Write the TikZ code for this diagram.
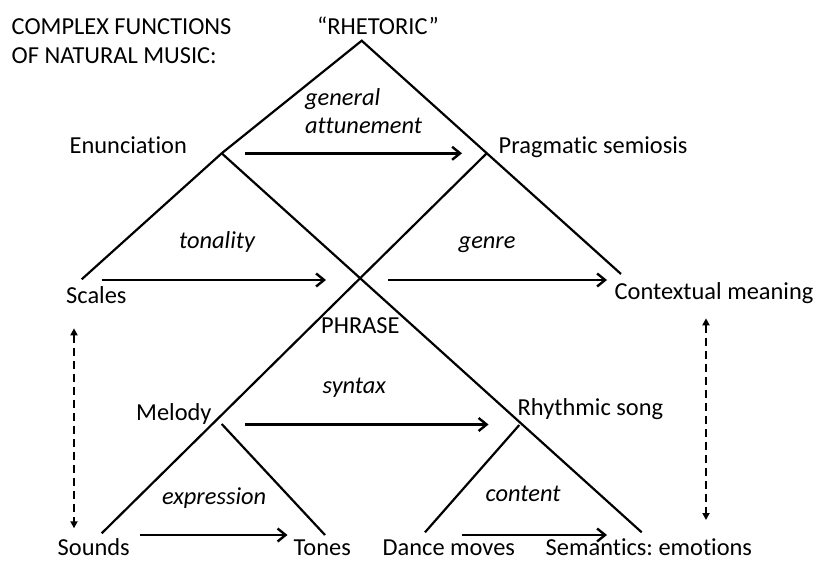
\documentclass[tikz,border=0pt]{standalone}
\usepackage{fontspec}
\setmainfont[Ligatures=NoCommon]{Carlito}
\usetikzlibrary{arrows.meta}
\frenchspacing
\begin{document}
\begin{tikzpicture}[x=1bp,y=-1bp,
  lbl/.style={inner sep=0pt,anchor=base west,font=\fontsize{24.5}{28}\selectfont},
  ilbl/.style={lbl,font=\fontsize{24.5}{28}\selectfont\itshape},
  branch/.style={line width=2.2bp},
  flow/.style={line width=2.6bp,-{Straight Barb[length=8bp,width=13bp,line width=2.4bp]}},
  link/.style={line width=2.4bp,dash pattern=on 8bp off 5bp,
    {Triangle[length=7bp,width=7bp]}-{Triangle[length=7bp,width=7bp]}}]
\useasboundingbox (0,0) rectangle (815,565);

% tree vertices
\coordinate (apex) at (361.7,40.7);
\coordinate (enun) at (221.7,153.3);
\coordinate (prag) at (486.7,153.3);
\coordinate (scalesEnd) at (81.7,279.3);
\coordinate (ctxEnd) at (621,274);
\coordinate (semEnd) at (641.7,532.3);
\coordinate (soundsEnd) at (101.7,533.3);
\coordinate (melJ) at (221.7,424);
\coordinate (tonesEnd) at (325,535);
\coordinate (rhyJ) at (519.3,425);
\coordinate (danceEnd) at (425,532.3);

% branches
\draw[branch] (scalesEnd) -- (enun) -- (apex) -- (ctxEnd);
\draw[branch] (enun) -- (semEnd);
\draw[branch] (prag) -- (soundsEnd);
\draw[branch] (melJ) -- (tonesEnd);
\draw[branch] (rhyJ) -- (danceEnd);

% labels
\node[lbl] (title1) at (11.5,35) {COMPLEX FUNCTIONS};
\node[lbl] (title2) at (11.5,63.3) {OF NATURAL MUSIC:};
\node[lbl] (rhet) at (317,35) {“RHETORIC”};
\node[ilbl] (gen1) at (305,106) {general};
\node[ilbl] (gen2) at (305,133.3) {attunement};
\node[lbl] (enunT) at (69.5,153.3) {Enunciation};
\node[lbl] (pragT) at (498.5,154) {Pragmatic semiosis};
\node[ilbl] (ton) at (179,248) {tonality};
\node[ilbl] (genre) at (458.5,248.5) {genre};
\node[lbl] (scalesT) at (66,303.3) {Scales};
\node[lbl] (ctxT) at (614.5,299) {Contextual meaning};
\node[lbl] (phr) at (321,333.3) {PHRASE};
\node[ilbl] (syn) at (322.5,393.3) {syntax};
\node[lbl] (melT) at (136,420) {Melody};
\node[lbl] (rhyT) at (517.5,415) {Rhythmic song};
\node[ilbl] (expr) at (162,504) {expression};
\node[ilbl] (cont) at (485.5,501) {content};
\node[lbl] (soundsT) at (57.5,555.7) {Sounds};
\node[lbl] (tonesT) at (293.5,555.7) {Tones};
\node[lbl] (danceT) at (382.5,555.7) {Dance moves};
\node[lbl] (semT) at (545.5,555.7) {Semantics: emotions};

% arrow end points
\coordinate (a1s) at (245,153.3);   \coordinate (a1e) at (462,153.3);
\coordinate (a2s) at (101.7,280);   \coordinate (a2e) at (326,280);
\coordinate (a3s) at (388.3,280);   \coordinate (a3e) at (607,280);
\coordinate (a4s) at (245,424.5);   \coordinate (a4e) at (488.5,424.5);
\coordinate (a5s) at (140,535);     \coordinate (a5e) at (287.5,535);
\coordinate (a6s) at (461.7,535);   \coordinate (a6e) at (607,535);
\coordinate (d1s) at (74,328.3);    \coordinate (d1e) at (74,528.3);
\coordinate (d2s) at (706,318.3);   \coordinate (d2e) at (706,520);

\draw[flow] (a1s) -- (a1e);
\draw[flow] (a2s) -- (a2e);
\draw[flow] (a3s) -- (a3e);
\draw[flow] (a4s) -- (a4e);
\draw[flow] (a5s) -- (a5e);
\draw[flow] (a6s) -- (a6e);
\draw[link] (d1s) -- (d1e);
\draw[link] (d2s) -- (d2e);
\end{tikzpicture}
\end{document}
